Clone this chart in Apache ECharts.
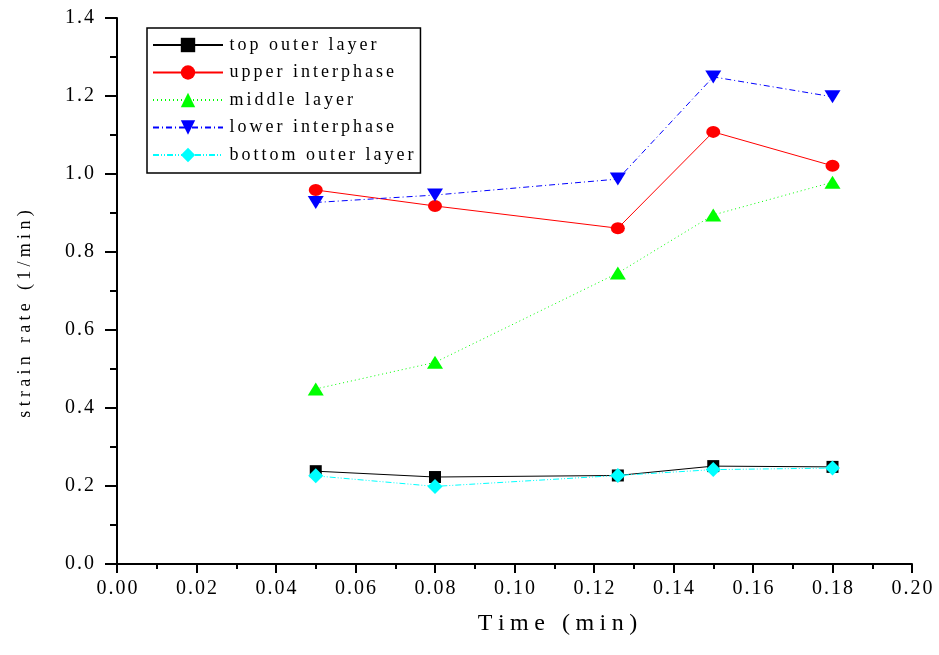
<!DOCTYPE html>
<html>
<head>
<meta charset="utf-8">
<script src="https://cdn.jsdelivr.net/npm/echarts@6/dist/echarts.min.js"></script>
<style>
html,body{margin:0;padding:0;background:#fff;}
#chart{width:939px;height:655px;}
</style>
</head>
<body>
<div id="chart"></div>
<script>
// data
var timeValues = [0.05, 0.08, 0.126, 0.15, 0.18];
var topOuter = [0.238, 0.223, 0.227, 0.251, 0.249];
var upperInter = [0.959, 0.918, 0.861, 1.108, 1.021];
var middleLayer = [0.449, 0.517, 0.746, 0.895, 0.979];
var lowerInter = [0.927, 0.946, 0.987, 1.249, 1.198];
var bottomOuter = [0.226, 0.199, 0.227, 0.242, 0.246];
var seriesNames = ['top outer layer', 'upper interphase', 'middle layer', 'lower interphase', 'bottom outer layer'];

var serif = 'Liberation Serif';

// the original text is set with wide tracking; fake it with one rich token per letter
function spaced(str, key){
	return str.split('').map(function(c){ return '{' + key + '|' + c + '}'; }).join('');
}
function track(size, gap){
	return { fontFamily: serif, fontSize: size, color: '#000', padding: [0, gap / 2, 0, gap / 2] };
}

function pairs(vals){
	var out = [];
	for (var i = 0; i < timeValues.length; i++) {
		out.push([timeValues[i], vals[i]]);
	}
	return out;
}

function mkSeries(name, vals, color, symbol, size, dash){
	return {
		name: name,
		type: 'line',
		data: pairs(vals),
		symbol: symbol,
		symbolSize: size,
		showSymbol: true,
		itemStyle: { color: color, opacity: 1 },
		lineStyle: { color: color, width: 1, type: dash },
		emphasis: { disabled: true },
		animation: false
	};
}

var myChart = echarts.init(document.getElementById('chart'));
var option = {
	backgroundColor: '#fff',
	textStyle: { fontFamily: serif },
	grid: { left: 117, right: 27, top: 18, bottom: 91 },
	legend: {
		left: 147,
		top: 28,
		orient: 'vertical',
		data: seriesNames,
		itemWidth: 70,
		itemHeight: 18,
		itemGap: 9.5,
		padding: [8, 7, 9, 5],
		borderColor: '#000',
		borderWidth: 1.5,
		borderRadius: 0,
		formatter: function (name) { return spaced(name, 'l'); },
		textStyle: { fontFamily: serif, fontSize: 18, color: '#000', rich: { l: track(18, 3) } }
	},
	xAxis: {
		type: 'value',
		min: 0,
		max: 0.2,
		interval: 0.02,
		name: spaced('Time (min)', 'n'),
		nameLocation: 'middle',
		nameGap: 48,
		nameTextStyle: { fontFamily: serif, fontSize: 24, color: '#000', padding: [0, 0, 0, 86], rich: { n: track(24, 5.5) } },
		axisLine: { show: true, lineStyle: { color: '#000', width: 2 } },
		axisTick: { show: true, length: 9, lineStyle: { color: '#000', width: 2 } },
		minorTick: { show: true, splitNumber: 2, length: 5, lineStyle: { color: '#000', width: 2 } },
		splitLine: { show: false },
		axisLabel: {
			margin: 15,
			fontFamily: serif,
			fontSize: 20,
			color: '#000',
			rich: { t: track(20, 2) },
			formatter: function (v) { return spaced(v.toFixed(2), 't'); }
		}
	},
	yAxis: {
		type: 'value',
		min: 0,
		max: 1.4,
		interval: 0.2,
		name: spaced('strain rate (1/min)', 'n'),
		nameLocation: 'middle',
		nameGap: 83,
		nameTextStyle: { fontFamily: serif, fontSize: 18, color: '#000', padding: [0, 46, 0, 0], rich: { n: track(18, 4.3) } },
		axisLine: { show: true, lineStyle: { color: '#000', width: 2 } },
		axisTick: { show: true, length: 12, lineStyle: { color: '#000', width: 2 } },
		minorTick: { show: true, splitNumber: 2, length: 7, lineStyle: { color: '#000', width: 2 } },
		splitLine: { show: false },
		axisLabel: {
			margin: 22,
			fontFamily: serif,
			fontSize: 20,
			color: '#000',
			rich: { t: track(20, 2) },
			formatter: function (v) { return spaced(v.toFixed(1), 't'); }
		}
	},
	series: [
		mkSeries(seriesNames[0], topOuter, '#000000', 'rect', 12, 'solid'),
		mkSeries(seriesNames[1], upperInter, '#ff0000', 'circle', [14, 12], 'solid'),
		mkSeries(seriesNames[2], middleLayer, '#00ff00', 'triangle', [16, 13], [1, 3]),
		mkSeries(seriesNames[3], lowerInter, '#0000ff', 'path://M0,0 L10,0 L5,8 Z', [16, 13], [6, 3, 1, 3]),
		mkSeries(seriesNames[4], bottomOuter, '#00ffff', 'diamond', 15, [6, 2, 1, 2, 1, 2])
	]
};
myChart.setOption(option);
</script>
</body>
</html>
